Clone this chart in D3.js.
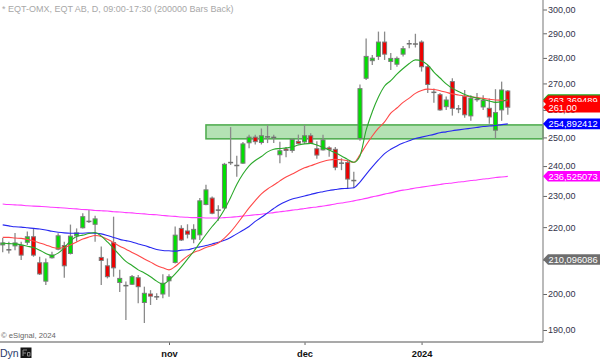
<!DOCTYPE html>
<html><head><meta charset="utf-8">
<script src="https://cdn.jsdelivr.net/npm/d3@7/dist/d3.min.js"></script>
<style>html,body{margin:0;padding:0;background:#fff;overflow:hidden}svg{display:block;font-family:"Liberation Sans",Arial,sans-serif}</style>
</head><body><svg id="c" width="600" height="359"></svg>
<script>
// ---- data (EQT-OMX daily candles, index 0..82) ----
const opens  = [214.5,213.2,214.2,214.3,215.3,217.0,209.1,203.7,210.6,213.2,214.3,211.9,217.3,219.8,221.8,220.9,210.7,208.2,215.2,203.3,202.4,202.8,204.7,197.6,200.0,199.2,200.0,203.8,209.2,219.6,218.8,216.3,217.6,227.2,229.3,225.4,226.1,241.2,240.2,241.0,248.1,250.1,248.2,250.4,250.0,243.9,245.9,245.4,248.6,248.4,250.6,246.0,245.6,246.3,245.8,241.0,241.2,235.1,249.6,272.0,278.9,280.6,286.4,278.6,277.5,281.5,285.7,285.6,286.4,276.5,266.6,265.7,261.2,270.7,260.4,265.0,257.8,263.9,261.1,260.6,252.6,260.0,267.1];
const highs  = [216.6,215.5,218.2,215.5,218.6,219.6,210.9,210.4,212.4,218.1,215.5,220.8,219.6,224.4,225.4,223.6,214.0,210.4,223.3,207.0,203.6,205.5,205.5,202.1,201.1,200.2,205.7,205.7,220.2,220.6,220.9,220.9,229.3,233.7,229.8,227.0,241.1,253.7,243.6,248.4,251.0,251.0,253.2,254.5,251.0,248.5,246.6,249.6,251.0,254.5,251.5,248.6,251.0,246.9,246.6,242.7,242.1,238.1,269.6,287.9,281.2,290.7,290.7,282.0,280.6,284.8,287.2,289.8,287.1,277.2,268.1,266.3,265.0,272.0,261.8,267.5,265.5,266.3,265.5,264.3,267.8,270.7,267.5];
const lows   = [212.3,211.9,212.9,209.9,214.5,210.9,205.5,202.6,210.4,212.9,204.7,211.6,215.5,219.6,221.3,215.5,202.6,204.5,205.0,200.6,192.7,202.6,197.4,191.9,196.9,198.3,198.8,199.2,208.9,215.7,216.5,215.0,216.0,227.0,224.1,222.0,225.7,240.4,236.4,240.7,246.2,247.5,247.5,248.0,248.0,241.0,243.0,244.6,247.5,247.7,248.0,242.5,245.4,243.2,238.6,238.6,232.5,232.5,248.8,271.3,277.2,279.2,279.2,275.2,276.5,280.6,283.9,284.2,274.6,266.3,262.7,259.7,260.0,257.9,258.8,257.1,256.0,263.0,260.0,254.9,249.7,256.0,258.2];
const closes = [215.1,213.0,215.1,211.4,217.0,211.4,205.8,209.1,211.4,217.3,208.2,217.2,218.2,223.3,221.8,222.6,209.8,205.0,207.6,204.5,202.4,205.0,202.1,200.2,199.4,199.2,203.1,205.0,217.5,216.0,217.8,219.3,228.4,232.0,224.4,225.4,240.6,241.2,240.2,247.7,250.1,248.5,250.6,250.2,250.0,245.3,245.4,249.3,247.9,250.6,248.0,243.8,249.1,245.7,239.6,241.0,235.6,235.1,268.0,280.6,279.9,286.4,281.5,279.8,279.8,283.7,285.7,285.6,276.5,269.6,266.6,260.0,263.7,260.6,260.4,258.2,264.4,263.9,263.5,257.4,259.0,267.5,261.0];

// moving averages (one value per candle)
const maGreen = [215.1,214.9,214.8,214.5,214.1,213.7,212.9,211.9,211.3,212.0,213.7,215.7,217.1,217.5,218.0,218.3,217.2,215.4,213.4,211.4,209.5,208.3,207.0,206.1,205.0,203.7,202.8,204.0,205.8,207.9,210.2,212.5,215.1,217.7,220.2,222.5,225.6,229.5,233.8,237.3,240.1,241.9,243.3,244.9,245.8,246.1,246.3,246.6,247.3,247.7,247.9,247.3,246.5,245.6,244.6,243.5,242.3,241.3,243.5,252.6,259.3,264.8,269.0,271.1,273.6,275.8,277.8,279.2,278.8,277.2,274.4,272.1,269.8,268.1,266.9,265.8,265.0,264.4,263.9,263.3,262.8,263.1,263.9];
const maRed   = [216.8,216.8,216.6,216.5,216.2,215.7,215.1,214.5,213.8,213.5,213.7,214.5,215.4,216.3,216.9,217.4,217.1,216.2,215.2,214.1,213.2,212.2,211.3,210.2,209.3,208.3,207.6,207.0,208.0,209.6,211.1,212.2,212.9,213.7,214.3,215.1,216.6,218.5,220.9,223.5,226.1,228.5,230.7,232.3,233.6,235.0,236.3,237.3,238.4,239.4,240.1,240.9,241.6,242.1,242.3,242.2,241.8,241.3,243.9,247.3,250.5,253.3,255.6,258.8,260.7,262.8,264.4,266.2,267.3,267.8,267.7,267.2,266.6,266.0,265.6,265.2,264.9,264.6,264.3,264.0,263.7,263.6,263.37];
const maBlue  = [220.7,220.4,220.1,220.0,219.8,219.6,219.4,219.1,218.7,218.4,218.2,218.1,218.1,218.1,218.2,218.1,217.9,217.4,216.8,216.2,215.8,215.4,214.8,214.3,213.7,213.1,212.8,212.7,212.6,212.9,213.0,213.5,213.9,214.3,214.8,215.3,215.9,216.8,217.9,219.0,220.2,221.8,223.1,224.5,225.9,227.2,228.2,229.0,229.5,230.0,230.5,231.0,231.4,231.8,232.1,232.4,232.5,232.7,234.6,237.2,239.7,242.1,244.3,245.8,247.0,248.0,248.8,249.6,250.1,250.6,251.1,251.7,252.0,252.4,252.7,253.0,253.3,253.6,253.9,254.1,254.3,254.6,254.89];
const maMagenta=[227.4,227.2,227.1,227.0,226.8,226.7,226.6,226.5,226.3,226.2,226.1,225.9,225.8,225.6,225.5,225.3,225.2,225.1,224.9,224.8,224.6,224.5,224.3,224.2,224.0,223.9,223.7,223.5,223.4,223.2,223.1,223.0,223.0,222.9,222.9,222.9,223.0,223.1,223.3,223.5,223.7,223.9,224.1,224.4,224.6,224.9,225.1,225.4,225.6,225.9,226.2,226.4,226.7,227.0,227.4,227.7,228.0,228.4,228.8,229.2,229.7,230.1,230.6,231.0,231.5,231.9,232.2,232.6,232.9,233.2,233.5,233.8,234.1,234.3,234.6,234.8,235.1,235.3,235.6,235.8,236.1,236.3,236.5];

const priceTicks = [190,200,210,220,230,240,250,260,270,280,290,300];
const monthTickIdx = [27,49,68];
const monthLabels = ["nov","dec","2024"];
const zoneLow = 249.5, zoneHigh = 254.5, zoneStartIdx = 33;
const tagValues = [263.9, 263.369489, 261.00, 254.892412, 236.525073, 210.096086];
const tagTexts  = ["", "263,369489", "261,00", "254,892412", "236,525073", "210,096086"];
const tagColors = ["#22aa22", "#ff0000", "#ff0000", "#0000ff", "#ff00ff", "#6e6e6e"];
const titleText = "* EQT-OMX, EQT AB, D, 09:00-17:30 (200000 Bars Back)";

// ---- drawing ----
const svg = d3.select("#c");
const W = 600, H = 359, axisX = 543, axisY = 342;
const n = closes.length;
const x = d3.scaleLinear().domain([0, n - 1]).range([2.7, 507.8]);
const y = d3.scaleLog().domain([190, 300]).range([330, 9.5]);
const fmt2 = v => d3.format(".2f")(v).replace(".", ",");

// title
svg.append("text").attr("x", 2).attr("y", 12).attr("font-size", 9).attr("fill", "#a8a8a8").text(titleText);

// support zone
svg.append("rect")
  .attr("x", x(zoneStartIdx)).attr("y", y(zoneHigh))
  .attr("width", axisX - x(zoneStartIdx)).attr("height", y(zoneLow) - y(zoneHigh))
  .attr("fill", "#b4e2b4").attr("stroke", "#4aaa4a").attr("stroke-width", 1.5);

// candles
const cg = svg.append("g");
const idx = d3.range(n);
cg.selectAll("line.wick").data(idx).join("line").attr("class","wick")
  .attr("x1", i => x(i)).attr("x2", i => x(i))
  .attr("y1", i => y(highs[i])).attr("y2", i => y(lows[i]))
  .attr("stroke", "#8a8a8a").attr("stroke-width", 1.3);
const doji = i => Math.abs(opens[i] - closes[i]) < 0.25;
cg.selectAll("rect.body").data(idx.filter(i => !doji(i))).join("rect").attr("class","body")
  .attr("x", i => x(i) - 2).attr("width", 4)
  .attr("y", i => y(Math.max(opens[i], closes[i])))
  .attr("height", i => Math.max(1, y(Math.min(opens[i], closes[i])) - y(Math.max(opens[i], closes[i]))))
  .attr("fill", i => closes[i] >= opens[i] ? "#00e000" : "#ee0000")
  .attr("stroke", "#7a7a7a").attr("stroke-width", 1);
cg.selectAll("line.doji").data(idx.filter(doji)).join("line").attr("class","doji")
  .attr("x1", i => x(i) - 2.5).attr("x2", i => x(i) + 2.5)
  .attr("y1", i => y(closes[i])).attr("y2", i => y(closes[i]))
  .attr("stroke", "#707070").attr("stroke-width", 1.5);

// moving averages
const line = d3.line().x((d, i) => x(i)).y(d => y(d)).curve(d3.curveMonotoneX);
[[maMagenta, "#ff3cff"], [maBlue, "#2828f0"], [maRed, "#ff4848"], [maGreen, "#2aa82a"]].forEach(([data, col]) => {
  svg.append("path").datum(data).attr("d", line).attr("fill", "none").attr("stroke", col).attr("stroke-width", 1.1);
});

// right axis
const ra = svg.append("g").attr("transform", `translate(${axisX},0)`)
  .call(d3.axisRight(y).tickValues(priceTicks).tickSize(4).tickPadding(1).tickFormat(fmt2));
ra.select(".domain").remove();
ra.selectAll(".tick line").attr("stroke", "#666");
ra.selectAll(".tick text").attr("font-size", 9).attr("fill", "#33334a").attr("font-family", "Liberation Sans, Arial, sans-serif");
svg.append("line").attr("x1", axisX).attr("x2", axisX).attr("y1", 0).attr("y2", axisY).attr("stroke", "#8c8c8c").attr("stroke-width", 1.2);

// bottom axis
const ba = svg.append("g").attr("transform", `translate(0,${axisY})`)
  .call(d3.axisBottom(x).tickValues(monthTickIdx).tickSize(3).tickPadding(5.5).tickFormat((d, i) => monthLabels[i]));
ba.select(".domain").remove();
ba.selectAll(".tick line").attr("stroke", "#666");
ba.selectAll(".tick text").attr("font-size", 9.3).attr("font-weight", "bold").attr("fill", "#111").attr("font-family", "Liberation Sans, Arial, sans-serif");
svg.append("line").attr("x1", 0).attr("x2", axisX).attr("y1", axisY).attr("y2", axisY).attr("stroke", "#8c8c8c").attr("stroke-width", 1.3);

// price tags
tagValues.forEach((v, k) => {
  const c = y(v);
  const g = svg.append("g");
  g.append("path").attr("d", `M${axisX},${c} L${axisX + 5},${c - 5.3} L${W},${c - 5.3} L${W},${c + 5.3} L${axisX + 5},${c + 5.3} Z`).attr("fill", tagColors[k]);
  if (tagTexts[k]) g.append("text").attr("x", axisX + 5.5).attr("y", c).attr("dy", "0.36em").attr("font-size", 9.3).attr("fill", "#fff").text(tagTexts[k]);
});

// footer
svg.append("text").attr("x", 1).attr("y", 337.5).attr("font-size", 7.7).attr("fill", "#666").text("\u00a9 eSignal, 2024");
svg.append("text").attr("x", 0).attr("y", 357).attr("font-size", 10.5).attr("fill", "#2b3a6a").text("Dyn");
svg.append("rect").attr("x", 20.5).attr("y", 347.5).attr("width", 11).attr("height", 10.5).attr("fill", "#151515");
svg.append("path").attr("d", "M23,356 L23,350 L27,350 M23,353 L26,353 M27.5,356 L27.5,352.5 L30,352.5 L30,356 Z").attr("fill", "none").attr("stroke", "#8a8a8a").attr("stroke-width", 1);
</script></body></html>
